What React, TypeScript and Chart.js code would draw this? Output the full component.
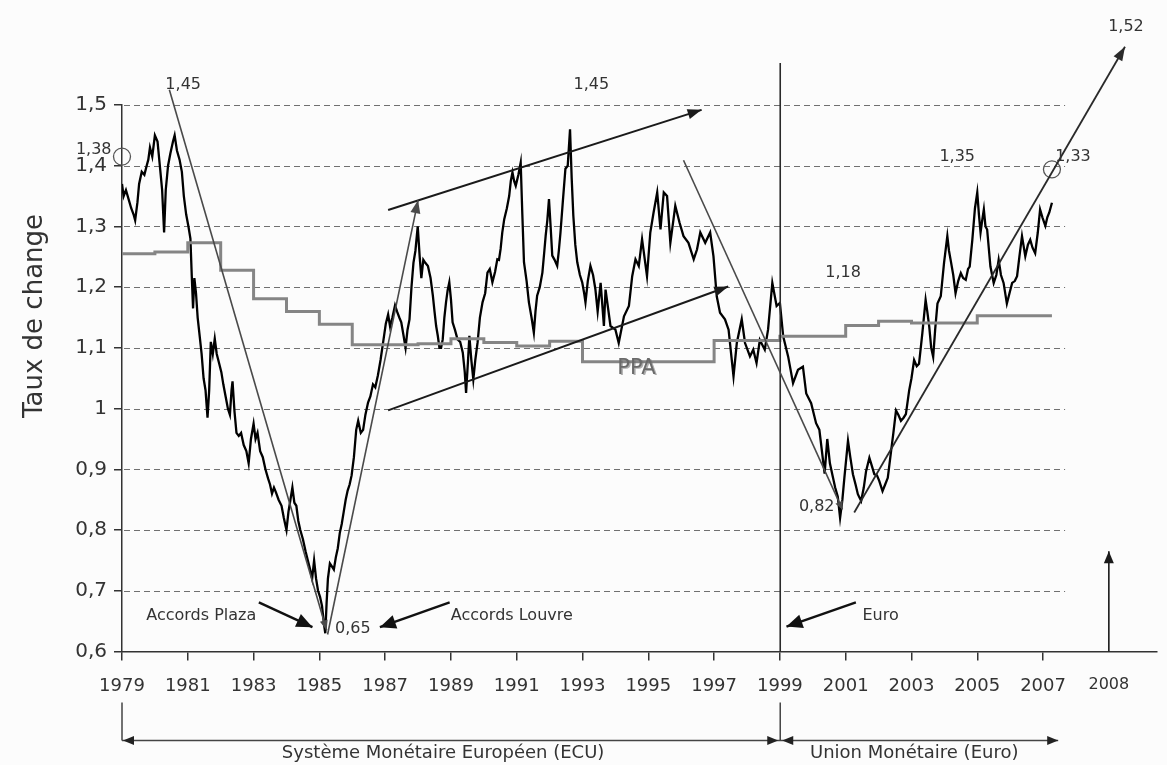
import React, { useEffect, useRef } from 'react';
import { Chart, registerables } from 'chart.js';

Chart.register(...registerables);

const FONT = '"DejaVu Sans", "Liberation Sans", sans-serif';

// Exchange rate (ECU/USD then EUR/USD)
const rateDates = [
  1979.00, 1979.05, 1979.12, 1979.20, 1979.28, 1979.35, 1979.40, 1979.47, 1979.52, 1979.60,
  1979.68, 1979.75, 1979.80, 1979.85, 1979.92, 1980.00, 1980.08, 1980.15, 1980.22, 1980.28,
  1980.33, 1980.40, 1980.47, 1980.55, 1980.60, 1980.67, 1980.75, 1980.82, 1980.88, 1980.95,
  1981.02, 1981.08, 1981.12, 1981.16, 1981.20, 1981.25, 1981.30, 1981.36, 1981.42, 1981.48,
  1981.54, 1981.60, 1981.65, 1981.70, 1981.76, 1981.82, 1981.88, 1981.95, 1982.02, 1982.08,
  1982.15, 1982.22, 1982.28, 1982.33, 1982.36, 1982.42, 1982.48, 1982.55, 1982.62, 1982.70,
  1982.78, 1982.85, 1982.92, 1983.00, 1983.06, 1983.12, 1983.20, 1983.28, 1983.36, 1983.44,
  1983.50, 1983.56, 1983.62, 1983.68, 1983.76, 1983.85, 1983.92, 1984.00, 1984.06, 1984.12,
  1984.18, 1984.24, 1984.30, 1984.36, 1984.42, 1984.50, 1984.58, 1984.65, 1984.72, 1984.78,
  1984.84, 1984.90, 1984.96, 1985.02, 1985.08, 1985.14, 1985.18, 1985.22, 1985.26, 1985.32,
  1985.38, 1985.44, 1985.50, 1985.56, 1985.62, 1985.68, 1985.74, 1985.80, 1985.86, 1985.92,
  1985.98, 1986.05, 1986.12, 1986.18, 1986.26, 1986.33, 1986.40, 1986.48, 1986.55, 1986.63,
  1986.70, 1986.78, 1986.86, 1986.94, 1987.02, 1987.09, 1987.15, 1987.22, 1987.30, 1987.36,
  1987.43, 1987.49, 1987.56, 1987.62, 1987.68, 1987.74, 1987.80, 1987.86, 1987.92, 1987.99,
  1988.05, 1988.10, 1988.16, 1988.22, 1988.30, 1988.38, 1988.45, 1988.50, 1988.55, 1988.60,
  1988.65, 1988.70, 1988.75, 1988.80, 1988.85, 1988.90, 1988.95, 1989.00, 1989.05, 1989.12,
  1989.20, 1989.28, 1989.36, 1989.42, 1989.46, 1989.52, 1989.56, 1989.62, 1989.68, 1989.74,
  1989.81, 1989.88, 1989.96, 1990.04, 1990.11, 1990.18, 1990.26, 1990.34, 1990.41, 1990.46,
  1990.51, 1990.56, 1990.62, 1990.70, 1990.77, 1990.82, 1990.87, 1990.92, 1990.97, 1991.05,
  1991.12, 1991.17, 1991.22, 1991.30, 1991.37, 1991.45, 1991.52, 1991.57, 1991.62, 1991.70,
  1991.78, 1991.84, 1991.88, 1991.93, 1991.98, 1992.03, 1992.08, 1992.15, 1992.23, 1992.28,
  1992.33, 1992.40, 1992.48, 1992.55, 1992.62, 1992.67, 1992.72, 1992.78, 1992.84, 1992.92,
  1992.99, 1993.05, 1993.09, 1993.16, 1993.24, 1993.32, 1993.39, 1993.46, 1993.55, 1993.65,
  1993.70, 1993.85, 1994.00, 1994.10, 1994.26, 1994.41, 1994.51, 1994.61, 1994.71, 1994.81,
  1994.96, 1995.06, 1995.16, 1995.27, 1995.37, 1995.47, 1995.57, 1995.67, 1995.82, 1995.95,
  1996.07, 1996.22, 1996.38, 1996.48, 1996.58, 1996.73, 1996.88, 1996.98, 1997.08, 1997.18,
  1997.33, 1997.44, 1997.59, 1997.69, 1997.84, 1997.94, 1998.09, 1998.19, 1998.29, 1998.39,
  1998.54, 1998.64, 1998.77, 1998.90, 1999.00, 1999.10, 1999.25, 1999.40, 1999.55, 1999.70,
  1999.80, 1999.95, 2000.10, 2000.20, 2000.36, 2000.44, 2000.52, 2000.60, 2000.68, 2000.76,
  2000.83, 2000.90, 2000.96, 2001.07, 2001.14, 2001.22, 2001.30, 2001.37, 2001.47, 2001.55,
  2001.62, 2001.72, 2001.80, 2001.87, 2001.95, 2002.02, 2002.12, 2002.20, 2002.28, 2002.38,
  2002.45, 2002.53, 2002.60, 2002.68, 2002.76, 2002.83, 2002.93, 2003.00, 2003.08, 2003.16,
  2003.23, 2003.33, 2003.43, 2003.48, 2003.54, 2003.60, 2003.66, 2003.72, 2003.79, 2003.89,
  2003.99, 2004.09, 2004.14, 2004.19, 2004.27, 2004.34, 2004.42, 2004.50, 2004.57, 2004.65,
  2004.72, 2004.77, 2004.85, 2004.93, 2005.00, 2005.05, 2005.10, 2005.15, 2005.20, 2005.25,
  2005.30, 2005.40, 2005.50, 2005.58, 2005.65, 2005.72, 2005.80, 2005.90, 2005.98, 2006.06,
  2006.14, 2006.21, 2006.28, 2006.36, 2006.46, 2006.54, 2006.61, 2006.68, 2006.76, 2006.84,
  2006.91, 2006.98, 2007.07, 2007.13, 2007.19, 2007.27,
];
const rateValues = [
  1.370, 1.350, 1.360, 1.345, 1.330, 1.320, 1.310, 1.340, 1.370, 1.390,
  1.385, 1.400, 1.410, 1.430, 1.415, 1.450, 1.440, 1.400, 1.360, 1.290,
  1.360, 1.400, 1.420, 1.440, 1.450, 1.425, 1.410, 1.390, 1.350, 1.320,
  1.300, 1.280, 1.220, 1.165, 1.215, 1.190, 1.150, 1.120, 1.090, 1.050,
  1.030, 0.985, 1.030, 1.110, 1.090, 1.115, 1.090, 1.075, 1.060, 1.040,
  1.020, 1.000, 0.990, 1.030, 1.045, 0.995, 0.960, 0.955, 0.960, 0.940,
  0.930, 0.910, 0.950, 0.975, 0.950, 0.960, 0.930, 0.920, 0.900, 0.885,
  0.875, 0.860, 0.870, 0.862, 0.850, 0.840, 0.820, 0.800, 0.830, 0.850,
  0.870, 0.845, 0.840, 0.815, 0.800, 0.785, 0.765, 0.750, 0.735, 0.720,
  0.750, 0.720, 0.700, 0.690, 0.675, 0.645, 0.630, 0.680, 0.720, 0.745,
  0.740, 0.735, 0.755, 0.770, 0.795, 0.810, 0.830, 0.850, 0.865, 0.875,
  0.890, 0.920, 0.965, 0.980, 0.960, 0.965, 0.990, 1.010, 1.020, 1.040,
  1.035, 1.055, 1.080, 1.110, 1.140, 1.155, 1.135, 1.150, 1.170, 1.160,
  1.150, 1.142, 1.120, 1.100, 1.130, 1.147, 1.200, 1.240, 1.260, 1.300,
  1.250, 1.215, 1.245, 1.240, 1.235, 1.215, 1.186, 1.160, 1.136, 1.120,
  1.100, 1.100, 1.114, 1.150, 1.175, 1.195, 1.208, 1.180, 1.142, 1.130,
  1.114, 1.110, 1.092, 1.060, 1.026, 1.080, 1.120, 1.080, 1.048, 1.080,
  1.109, 1.150, 1.175, 1.190, 1.224, 1.230, 1.208, 1.225, 1.246, 1.245,
  1.263, 1.290, 1.312, 1.330, 1.350, 1.375, 1.389, 1.375, 1.367, 1.385,
  1.405, 1.320, 1.241, 1.210, 1.175, 1.150, 1.125, 1.160, 1.186, 1.200,
  1.224, 1.260, 1.285, 1.310, 1.345, 1.300, 1.252, 1.245, 1.235, 1.260,
  1.290, 1.340, 1.395, 1.400, 1.460, 1.380, 1.318, 1.270, 1.241, 1.220,
  1.208, 1.190, 1.175, 1.210, 1.235, 1.220, 1.197, 1.160, 1.207, 1.136,
  1.196, 1.136, 1.130, 1.108, 1.152, 1.169, 1.218, 1.246, 1.235, 1.279,
  1.218, 1.290, 1.323, 1.356, 1.295, 1.356, 1.350, 1.273, 1.334, 1.306,
  1.284, 1.273, 1.246, 1.262, 1.290, 1.273, 1.290, 1.251, 1.185, 1.158,
  1.147, 1.130, 1.053, 1.108, 1.147, 1.108, 1.086, 1.097, 1.075, 1.113,
  1.097, 1.130, 1.207, 1.169, 1.174, 1.119, 1.086, 1.042, 1.064, 1.069,
  1.025, 1.009, 0.976, 0.965, 0.893, 0.950, 0.910, 0.890, 0.870, 0.855,
  0.820, 0.850, 0.886, 0.947, 0.920, 0.892, 0.875, 0.859, 0.848, 0.870,
  0.897, 0.919, 0.905, 0.892, 0.890, 0.881, 0.864, 0.875, 0.886, 0.930,
  0.960, 0.997, 0.990, 0.980, 0.985, 0.991, 1.030, 1.050, 1.080, 1.070,
  1.074, 1.124, 1.179, 1.160, 1.135, 1.100, 1.085, 1.130, 1.173, 1.185,
  1.240, 1.284, 1.260, 1.245, 1.220, 1.190, 1.210, 1.223, 1.215, 1.212,
  1.230, 1.234, 1.278, 1.330, 1.356, 1.320, 1.290, 1.310, 1.328, 1.300,
  1.295, 1.234, 1.207, 1.220, 1.245, 1.220, 1.207, 1.173, 1.190, 1.207,
  1.210, 1.218, 1.250, 1.284, 1.251, 1.270, 1.278, 1.265, 1.256, 1.290,
  1.328, 1.315, 1.301, 1.315, 1.323, 1.339,
];

// PPA (purchasing power parity) step series
const ppaDates = [1979, 1980, 1981, 1982, 1983, 1984, 1985, 1986, 1988, 1989, 1990, 1991, 1992, 1993, 1997, 1999, 2001, 2002, 2003, 2005, 2007.27];
const ppaValues = [1.255, 1.258, 1.273, 1.228, 1.181, 1.160, 1.139, 1.105, 1.107, 1.115, 1.109, 1.103, 1.111, 1.077, 1.112, 1.119, 1.137, 1.144, 1.141, 1.153, 1.153];

// Axis ticks
const xTickYears = [1979, 1981, 1983, 1985, 1987, 1989, 1991, 1993, 1995, 1997, 1999, 2001, 2003, 2005, 2007, 2009];
const xTickLabels = ['1979', '1981', '1983', '1985', '1987', '1989', '1991', '1993', '1995', '1997', '1999', '2001', '2003', '2005', '2007', '2008'];
const yTickValues = [0.6, 0.7, 0.8, 0.9, 1.0, 1.1, 1.2, 1.3, 1.4, 1.5];

// Annotation lines (year, rate)
const trendDown1985 = [[1980.44, 1.525], [1985.22, 0.635]];
const trendUp1987 = [[1985.25, 0.628], [1988.0, 1.343]];
const channelTop = [[1987.09, 1.327], [1996.62, 1.492]];
const channelBottom = [[1987.09, 0.997], [1997.43, 1.201]];
const trendDown2000 = [[1996.07, 1.409], [2000.9, 0.834]];
const trendUp2008 = [[2001.26, 0.829], [2009.49, 1.596]];
const euroStart = [[1999.01, 0.6], [1999.01, 1.569]];
const arrow2008 = [[2009.0, 0.6], [2009.0, 0.765]];
const plazaArrow = [[1983.16, 0.681], [1984.79, 0.640]];
const louvreArrow = [[1988.96, 0.681], [1986.84, 0.640]];
const euroArrow = [[2001.31, 0.681], [1999.2, 0.641]];
const markedPoints = [[1979.0, 1.415], [2007.27, 1.394]];

const pts = (arr: number[][]) => arr.map(([x, y]) => ({ x, y }));

function fmtRate(v: number) {
  const r = Math.round(v * 10) / 10;
  if (Math.abs(r - 1) < 1e-9) return '1';
  return r.toFixed(1).replace('.', ',');
}

function drawHead(ctx: CanvasRenderingContext2D, x0: number, y0: number, x1: number, y1: number, len: number, half: number, color: string) {
  const a = Math.atan2(y1 - y0, x1 - x0);
  ctx.save();
  ctx.translate(x1, y1);
  ctx.rotate(a);
  ctx.beginPath();
  ctx.moveTo(0, 0);
  ctx.lineTo(-len, half);
  ctx.lineTo(-len, -half);
  ctx.closePath();
  ctx.fillStyle = color;
  ctx.fill();
  ctx.restore();
}

const decorPlugin = {
  id: 'decor',
  beforeDraw(chart: any) {
    const { ctx } = chart;
    ctx.save();
    ctx.fillStyle = '#fcfcfc';
    ctx.fillRect(0, 0, chart.width, chart.height);
    ctx.restore();
  },
  beforeDatasetsDraw(chart: any) {
    const { ctx, chartArea } = chart;
    const xs = chart.scales.x;
    const ys = chart.scales.y;
    const xEnd = xs.getPixelForValue(2007.67);
    ctx.save();
    ctx.strokeStyle = '#707070';
    ctx.lineWidth = 1;
    ctx.setLineDash([6, 4]);
    yTickValues.forEach((v) => {
      if (v <= 0.6) return;
      const y = Math.round(ys.getPixelForValue(v)) + 0.5;
      ctx.beginPath();
      ctx.moveTo(chartArea.left + 2, y);
      ctx.lineTo(xEnd, y);
      ctx.stroke();
    });
    ctx.restore();
  },
  afterDatasetsDraw(chart: any) {
    const { ctx, chartArea } = chart;
    const xs = chart.scales.x;
    const ys = chart.scales.y;
    // arrow heads
    chart.data.datasets.forEach((ds: any, i: number) => {
      if (!ds.arrowLen) return;
      const meta = chart.getDatasetMeta(i);
      const n = meta.data.length;
      if (n < 2) return;
      const p0 = meta.data[n - 2];
      const p1 = meta.data[n - 1];
      drawHead(ctx, p0.x, p0.y, p1.x, p1.y, ds.arrowLen, ds.arrowHalf, ds.borderColor);
    });

    const px = (x: number) => xs.getPixelForValue(x);
    const py = (y: number) => ys.getPixelForValue(y);

    ctx.save();
    ctx.textAlign = 'center';
    ctx.textBaseline = 'middle';
    ctx.fillStyle = '#333';
    ctx.font = `16px ${FONT}`;
    const labels: [string, number, number][] = [
      ['1,45', 1980.86, 1.533],
      ['1,38', 1978.14, 1.426],
      ['1,45', 1993.27, 1.533],
      ['1,18', 2000.92, 1.224],
      ['1,35', 2004.39, 1.415],
      ['1,33', 2007.91, 1.415],
      ['1,52', 2009.52, 1.629],
      ['0,82', 2000.12, 0.838],
      ['0,65', 1986.02, 0.638],
      ['Accords Plaza', 1981.41, 0.659],
      ['Accords Louvre', 1990.85, 0.659],
      ['Euro', 2002.06, 0.659],
    ];
    labels.forEach(([t, x, y]) => ctx.fillText(t, px(x), py(y)));

    // PPA label (gray, slightly doubled)
    ctx.font = `21px ${FONT}`;
    ctx.fillStyle = 'rgba(110,110,110,0.55)';
    ctx.fillText('PPA', px(1994.64) + 1.5, py(1.066) + 1.5);
    ctx.fillStyle = '#6a6a6a';
    ctx.fillText('PPA', px(1994.64), py(1.066));

    // y-axis title
    ctx.save();
    ctx.translate(42, 316);
    ctx.rotate(-Math.PI / 2);
    ctx.textAlign = 'center';
    ctx.textBaseline = 'alphabetic';
    ctx.font = `26px ${FONT}`;
    ctx.fillStyle = '#333';
    ctx.fillText('Taux de change', 0, 0);
    ctx.restore();

    // bottom period brackets
    const b = chartArea.bottom;
    const x0 = px(1979);
    const x1 = px(1999.01);
    const x2 = px(2007.46);
    const yTop = b + 51;
    const yLine = b + 89;
    ctx.strokeStyle = '#444';
    ctx.lineWidth = 1.5;
    ctx.beginPath();
    ctx.moveTo(x0, yTop);
    ctx.lineTo(x0, yLine);
    ctx.moveTo(x1, yTop);
    ctx.lineTo(x1, yLine);
    ctx.moveTo(x0, yLine);
    ctx.lineTo(x2, yLine);
    ctx.stroke();
    drawHead(ctx, x0 + 20, yLine, x0 + 1, yLine, 11, 4.5, '#222');
    drawHead(ctx, x1 - 20, yLine, x1 - 2, yLine, 11, 4.5, '#222');
    drawHead(ctx, x1 + 20, yLine, x1 + 2, yLine, 11, 4.5, '#222');
    drawHead(ctx, x2 - 20, yLine, x2, yLine, 11, 4.5, '#222');
    ctx.font = `18px ${FONT}`;
    ctx.fillStyle = '#333';
    ctx.textAlign = 'center';
    ctx.textBaseline = 'middle';
    ctx.fillText('Système Monétaire Européen (ECU)', (x0 + x1) / 2 - 8, b + 102);
    ctx.fillText('Union Monétaire (Euro)', (x1 + x2) / 2 - 5, b + 102);
    ctx.restore();
  },
};

function annot(data: number[][], color: string, width: number, arrowLen = 0, arrowHalf = 0) {
  return {
    type: 'line',
    data: pts(data),
    borderColor: color,
    backgroundColor: color,
    borderWidth: width,
    pointRadius: 0,
    fill: false,
    tension: 0,
    clip: false,
    order: 0,
    arrowLen,
    arrowHalf,
  } as any;
}

export default function App() {
  const ref = useRef<HTMLCanvasElement>(null);
  useEffect(() => {
    if (!ref.current) return;
    const chart = new Chart(ref.current, {
      type: 'line',
      data: {
        datasets: [
          annot(trendDown1985, '#4a4a4a', 1.6, 10, 4),
          annot(trendUp1987, '#4a4a4a', 1.6, 13, 5),
          annot(channelTop, '#1a1a1a', 2, 14, 5),
          annot(channelBottom, '#1a1a1a', 2, 14, 5),
          annot(trendDown2000, '#4a4a4a', 1.6, 8, 4),
          annot(trendUp2008, '#2a2a2a', 1.8, 14, 5),
          annot(euroStart, '#2a2a2a', 1.6),
          annot(arrow2008, '#1a1a1a', 1.6, 12, 5),
          annot(plazaArrow, '#111', 2.4, 16, 7),
          annot(louvreArrow, '#111', 2.4, 16, 7),
          annot(euroArrow, '#111', 2.4, 16, 7),
          {
            type: 'line',
            data: pts(markedPoints),
            showLine: false,
            pointRadius: 8.5,
            pointStyle: 'circle',
            pointBackgroundColor: 'rgba(0,0,0,0)',
            pointBorderColor: '#555',
            pointBorderWidth: 1.3,
            clip: false,
            order: 0,
          } as any,
          {
            label: 'PPA',
            type: 'line',
            data: ppaDates.map((d, i) => ({ x: d, y: ppaValues[i] })),
            stepped: 'before',
            borderColor: '#858585',
            borderWidth: 3,
            pointRadius: 0,
            fill: false,
            order: 1,
          } as any,
          {
            label: 'Taux de change',
            type: 'line',
            data: rateDates.map((d, i) => ({ x: d, y: rateValues[i] })),
            borderColor: '#000',
            borderWidth: 2.3,
            pointRadius: 0,
            tension: 0,
            fill: false,
            order: 2,
          } as any,
        ],
      },
      options: {
        animation: false,
        responsive: false,
        devicePixelRatio: 1,
        events: [],
        layout: { padding: { top: 105, right: 5, left: 0, bottom: 0 } },
        plugins: { legend: { display: false }, tooltip: { enabled: false }, title: { display: false } },
        scales: {
          x: {
            type: 'linear',
            min: 1979,
            max: 2010.47,
            afterBuildTicks: (s: any) => {
              s.ticks = xTickYears.map((v) => ({ value: v }));
            },
            afterFit: (s: any) => {
              s.height = 113.5;
            },
            ticks: {
              autoSkip: false,
              maxRotation: 0,
              padding: 15,
              color: '#333',
              font: (c: any) => ({ family: FONT, size: c.tick && c.tick.value === 2009 ? 16 : 18 }),
              callback: (v: any) => {
                const i = xTickYears.indexOf(Number(v));
                return i >= 0 ? xTickLabels[i] : '';
              },
            },
            grid: {
              drawOnChartArea: false,
              drawTicks: true,
              tickLength: 9,
              lineWidth: 1.5,
              color: (c: any) => (c.tick && c.tick.value === 2009 ? 'rgba(0,0,0,0)' : '#333'),
            },
            border: { display: true, color: '#333', width: 1.5 },
          },
          y: {
            type: 'linear',
            min: 0.6,
            max: 1.5,
            afterBuildTicks: (s: any) => {
              s.ticks = yTickValues.map((v) => ({ value: v }));
            },
            afterFit: (s: any) => {
              s.width = 122;
            },
            ticks: {
              padding: 7,
              color: '#333',
              font: { family: FONT, size: 20 },
              callback: (v: any) => fmtRate(Number(v)),
            },
            grid: { drawOnChartArea: false, drawTicks: true, tickLength: 8, lineWidth: 1.5, color: '#333' },
            border: { display: true, color: '#333', width: 1.5 },
          },
        },
      } as any,
      plugins: [decorPlugin],
    });
    return () => chart.destroy();
  }, []);
  return (
    <div style={{ position: 'absolute', left: 0, top: 0, width: 1167, height: 765, background: '#fcfcfc' }}>
      <canvas ref={ref} width={1167} height={765} style={{ display: 'block' }} />
    </div>
  );
}
